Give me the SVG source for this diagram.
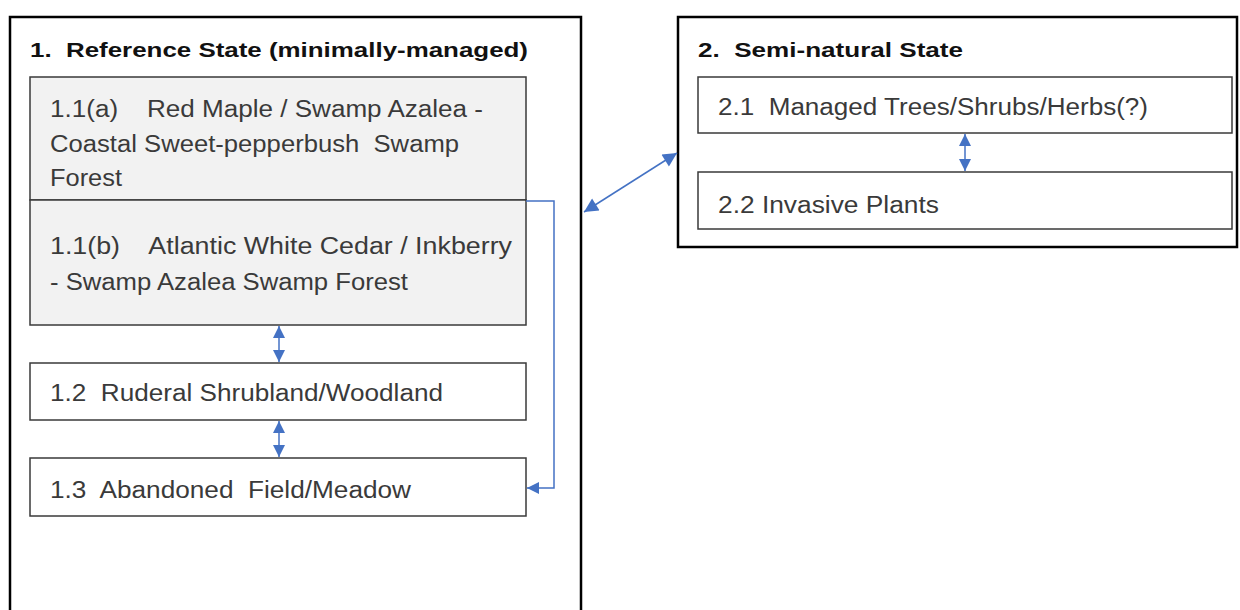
<svg xmlns="http://www.w3.org/2000/svg" width="1240" height="610" viewBox="0 0 1240 610">
<style>
.state{fill:#fff;stroke:#000;stroke-width:2.5}
.box{fill:#fff;stroke:#3a3a3a;stroke-width:1.5}
.gbox{fill:#f2f2f2;stroke:#3a3a3a;stroke-width:1.5}
.t{font-family:"Liberation Sans",Arial,sans-serif;font-size:23px;fill:#3a3a3a;white-space:pre}
.h{font-family:"Liberation Sans",Arial,sans-serif;font-size:20px;font-weight:bold;fill:#111;white-space:pre}
.c{fill:none;stroke:#4472c4;stroke-width:1.5}
</style>
<defs>
<marker id="ah" viewBox="0 0 10 10" refX="10" refY="5" markerWidth="15" markerHeight="14" markerUnits="userSpaceOnUse" orient="auto-start-reverse">
<path d="M0,0 L10,5 L0,10 z" fill="#4472c4"/>
</marker>
<marker id="ahs" viewBox="0 0 10 10" refX="10" refY="5" markerWidth="12" markerHeight="13" markerUnits="userSpaceOnUse" orient="auto-start-reverse">
<path d="M0,0 L10,5 L0,10 z" fill="#4472c4"/>
</marker>
</defs>
<g id="state1">
<rect class="state" x="10" y="17" width="571" height="610"/>
<text class="h" x="30" y="57" textLength="498" lengthAdjust="spacingAndGlyphs">1.  Reference State (minimally-managed)</text>
</g>
<g id="node11a">
<rect class="gbox" x="30" y="77" width="496" height="123"/>
<text class="t" x="50" y="117" textLength="433" lengthAdjust="spacingAndGlyphs">1.1(a)    Red Maple / Swamp Azalea -</text>
<text class="t" x="50" y="152" textLength="409" lengthAdjust="spacingAndGlyphs">Coastal Sweet-pepperbush  Swamp</text>
<text class="t" x="50" y="186" textLength="72" lengthAdjust="spacingAndGlyphs">Forest</text>
</g>
<g id="node11b">
<rect class="gbox" x="30" y="200" width="496" height="125"/>
<text class="t" x="50" y="254" textLength="462" lengthAdjust="spacingAndGlyphs">1.1(b)    Atlantic White Cedar / Inkberry</text>
<text class="t" x="50" y="290" textLength="358" lengthAdjust="spacingAndGlyphs">- Swamp Azalea Swamp Forest</text>
</g>
<g id="node12">
<rect class="box" x="30" y="363" width="496" height="57"/>
<text class="t" x="50" y="401" textLength="393" lengthAdjust="spacingAndGlyphs">1.2  Ruderal Shrubland/Woodland</text>
</g>
<g id="node13">
<rect class="box" x="30" y="458" width="496" height="58"/>
<text class="t" x="50" y="498" textLength="361" lengthAdjust="spacingAndGlyphs">1.3  Abandoned  Field/Meadow</text>
</g>
<g id="state2">
<rect class="state" x="678" y="17" width="559" height="230"/>
<text class="h" x="698" y="57" textLength="265" lengthAdjust="spacingAndGlyphs">2.  Semi-natural State</text>
</g>
<g id="node21">
<rect class="box" x="698" y="77" width="534" height="56"/>
<text class="t" x="718" y="115" textLength="430" lengthAdjust="spacingAndGlyphs">2.1  Managed Trees/Shrubs/Herbs(?)</text>
</g>
<g id="node22">
<rect class="box" x="698" y="172" width="534" height="57"/>
<text class="t" x="718" y="213" textLength="221" lengthAdjust="spacingAndGlyphs">2.2 Invasive Plants</text>
</g>
<g id="connectors">
<line class="c" x1="279" y1="326" x2="279" y2="362" stroke-width="2.5" marker-start="url(#ahs)" marker-end="url(#ahs)"/>
<line class="c" x1="279" y1="421" x2="279" y2="457" stroke-width="2.5" marker-start="url(#ahs)" marker-end="url(#ahs)"/>
<line class="c" x1="965" y1="134" x2="965" y2="171" stroke-width="2.5" marker-start="url(#ahs)" marker-end="url(#ahs)"/>
<polyline class="c" points="526,201 554,201 554,488 527,488" marker-end="url(#ahs)"/>
<line class="c" x1="584" y1="212" x2="677" y2="153" marker-start="url(#ah)" marker-end="url(#ah)"/>
</g>
</svg>
